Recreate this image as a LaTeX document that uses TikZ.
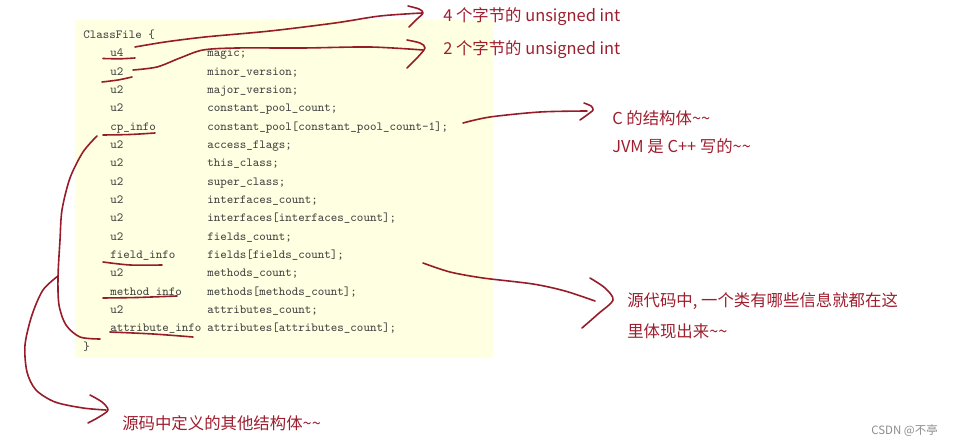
\documentclass[tikz,border=0pt]{standalone}
\usepackage{fontspec}
\newfontfamily\cjk{Noto Sans CJK SC}
\definecolor{ink}{RGB}{150,28,42}
\definecolor{notered}{RGB}{158,30,46}
\definecolor{codegray}{RGB}{68,68,68}
\definecolor{paper}{RGB}{255,255,225}
\definecolor{marks}{RGB}{140,140,140}
\begin{document}
\begin{tikzpicture}[x=0.75pt,y=-0.75pt,
  code/.style={anchor=base west,inner sep=0,font=\ttfamily\fontsize{9.3}{11}\selectfont,text=codegray},
  note/.style={anchor=base west,inner sep=0,font=\cjk\fontsize{12.3}{14}\selectfont,text=notered},
  pen/.style={draw=ink,line width=1.2pt,line cap=round,line join=round}]
\useasboundingbox (0,0) rectangle (954,445);
\fill[paper] (75,20) rectangle (493,358);

% code lines
\node[code] (cf) at (83,38.5) {ClassFile \{};
\node[code] (t1) at (110,56.8) {u4};            \node[code] (n1) at (207,56.8) {magic;};
\node[code] (t2) at (110,75.2) {u2};            \node[code] (n2) at (207,75.2) {minor\_version;};
\node[code] (t3) at (110,93.5) {u2};            \node[code] (n3) at (207,93.5) {major\_version;};
\node[code] (t4) at (110,111.8) {u2};           \node[code] (n4) at (207,111.8) {constant\_pool\_count;};
\node[code] (t5) at (110,130.2) {cp\_info};     \node[code] (n5) at (207,130.2) {constant\_pool[constant\_pool\_count-1];};
\node[code] (t6) at (110,148.5) {u2};           \node[code] (n6) at (207,148.5) {access\_flags;};
\node[code] (t7) at (110,166.8) {u2};           \node[code] (n7) at (207,166.8) {this\_class;};
\node[code] (t8) at (110,185.2) {u2};           \node[code] (n8) at (207,185.2) {super\_class;};
\node[code] (t9) at (110,203.5) {u2};           \node[code] (n9) at (207,203.5) {interfaces\_count;};
\node[code] (t10) at (110,221.8) {u2};          \node[code] (n10) at (207,221.8) {interfaces[interfaces\_count];};
\node[code] (t11) at (110,240.2) {u2};          \node[code] (n11) at (207,240.2) {fields\_count;};
\node[code] (t12) at (110,258.5) {field\_info}; \node[code] (n12) at (207,258.5) {fields[fields\_count];};
\node[code] (t13) at (110,276.8) {u2};          \node[code] (n13) at (207,276.8) {methods\_count;};
\node[code] (t14) at (110,295.2) {method\_info};\node[code] (n14) at (207,295.2) {methods[methods\_count];};
\node[code] (t15) at (110,313.5) {u2};          \node[code] (n15) at (207,313.5) {attributes\_count;};
\node[code] (t16) at (110,331.8) {attribute\_info}; \node[code] (n16) at (207,331.8) {attributes[attributes\_count];};
\node[code] (cb) at (83,350.2) {\}};

% notes
\node[note] (a4) at (443,22) {4 个字节的 unsigned int};
\node[note] (a2) at (443,55) {2 个字节的 unsigned int};
\node[note] (ac1) at (612,125) {C 的结构体\char"007E\char"007E};
\node[note] (ac2) at (612,153) {JVM 是 C++ 写的\char"007E\char"007E};
\node[note] (as1) at (627,307) {源代码中, 一个类有哪些信息就都在这};
\node[note] (as2) at (627,338) {里体现出来\char"007E\char"007E};
\node[note] (ao) at (122,430) {源码中定义的其他结构体\char"007E\char"007E};
\node[anchor=base east,inner sep=0,font=\cjk\fontsize{8.6}{10}\selectfont,text=marks] (wm) at (938,435) {CSDN @不亭};

% underlines
\draw[pen] plot[smooth] coordinates {(103,58.5) (120,58.8) (135,58)};
\draw[pen] plot[smooth] coordinates {(102,82) (118,80) (132,77)};
\draw[pen] plot[smooth] coordinates {(103,135) (130,134.5) (155,133)};
\draw[pen] plot[smooth] coordinates {(103,262) (130,265) (162,265)};
\draw[pen] plot[smooth] coordinates {(103,298) (137,297.5) (177,296)};
\draw[pen] plot[smooth] coordinates {(110,332) (153,334) (193,337)};

% connector coordinates
\coordinate (s1) at (135,47);  \coordinate (e1) at (422,13);
\coordinate (s2) at (133,70);  \coordinate (e2) at (423,50);
\coordinate (s3) at (463,123); \coordinate (e3) at (587,111);
\coordinate (s4) at (423,263); \coordinate (e4) at (595,301);
\coordinate (s5) at (97,136);  \coordinate (e5) at (100,339);
\coordinate (s6) at (58,276);  \coordinate (e6) at (106,410);

% strokes
\draw[pen] plot[smooth] coordinates {(s1) (165,42) (205,37) (270,31) (335,23) (380,16) (e1)};
\draw[pen] plot[smooth] coordinates {(408,6) (419,9) (423,13) (416,20) (409,27)};

\draw[pen] plot[smooth] coordinates {(s2) (157,67) (180,58) (203,50) (237,48) (303,48) (370,47) (e2)};
\draw[pen] plot[smooth] coordinates {(407,40) (420,43) (425,48) (417,58) (407,68)};

\draw[pen] plot[smooth] coordinates {(s3) (490,117) (540,112) (e3)};
\draw[pen] plot[smooth] coordinates {(584,103) (591,106) (593,110) (587,115) (580,120)};

\draw[pen] plot[smooth] coordinates {(s4) (450,272) (483,278) (533,284) (565,291) (e4)};
\draw[pen] plot[smooth] coordinates {(590,278) (605,288) (613,300) (598,314) (582,328)};

\draw[pen] plot[smooth] coordinates {(s5) (83,152) (70,178) (62,210) (60,240) (58,277) (59,305) (66,325) (80,337) (e5)};
\draw[pen] plot[smooth] coordinates {(s6) (43,290) (32,315) (25,345) (27,372) (36,390) (55,402) (83,408) (e6)};
\draw[pen] plot[smooth] coordinates {(90,395) (102,402) (108,410) (99,417) (88,423)};
\end{tikzpicture}
\end{document}
